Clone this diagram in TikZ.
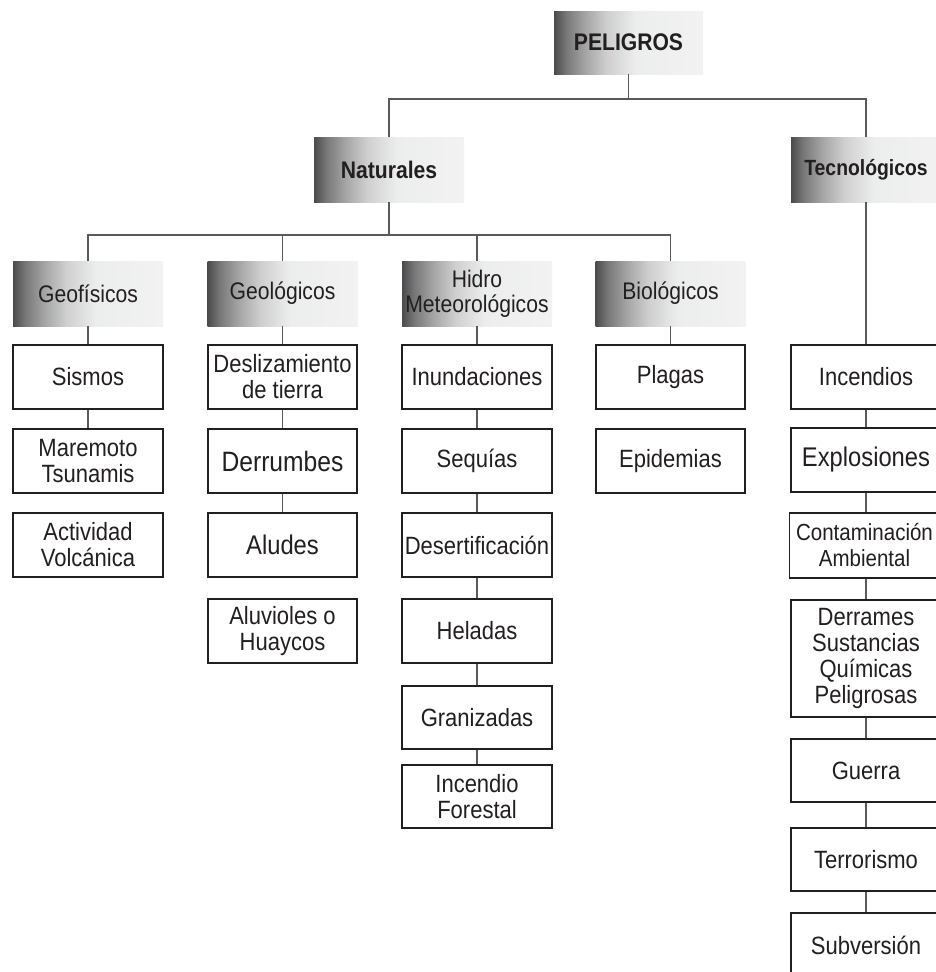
\documentclass[tikz,border=0pt]{standalone}
\usepackage{fontspec}
\setmainfont{Liberation Sans}[FakeStretch=0.88]
\definecolor{sA}{HTML}{4B4B4D}
\definecolor{sB}{HTML}{777778}
\definecolor{sC}{HTML}{A2A2A3}
\definecolor{sD}{HTML}{CDCECD}
\definecolor{sE}{HTML}{ECEDED}
\definecolor{sF}{HTML}{F1F2F1}
\definecolor{txt}{HTML}{231F20}
\definecolor{lin}{HTML}{5A5A5A}
\pgfdeclarehorizontalshading{hdrshade}{100bp}{color(0bp)=(sA); color(25bp)=(sA); color(29bp)=(sB); color(35bp)=(sC); color(42.5bp)=(sD); color(52.5bp)=(sE); color(75bp)=(sF); color(100bp)=(sF)}
\tikzset{
  hdr/.style={shading=hdrshade, draw=none, minimum width=150pt, minimum height=65pt, inner sep=0pt, text=txt, align=center},
  hdrbold/.style={hdr, font=\bfseries\fontsize{24}{25}\selectfont},
  hdrnorm/.style={hdr, font=\fontsize{24}{25}\selectfont},
  itembox/.style={draw=txt, line width=1.3pt, fill=white, minimum width=150pt, minimum height=64pt, inner sep=0pt, text=txt, align=center, font=\fontsize{25}{26}\selectfont},
  conn/.style={draw=lin, line width=1.3pt}
}
\begin{document}
\begin{tikzpicture}[x=1pt,y=-1pt]
\clip (0,0) rectangle (936,972);
\fill[white] (0,0) rectangle (936,972);
% level 1
\node[hdrbold, minimum width=149pt, minimum height=63pt] (peligros) at (628.5,42.5) {PELIGROS};
% level 2
\node[hdrbold] (naturales) at (389,169.5) {Naturales};
\node[hdrbold, font=\bfseries\fontsize{22}{24}\selectfont] (tecno) at (866,169.5) {Tecnológicos};
% level 3 headers
\node[hdrnorm] (geofis) at (88,293.5) {Geofísicos};
\node[hdrnorm] (geolog) at (282.5,293.5) {Geológicos};
\node[hdrnorm] (hidro) at (477,293.5) {Hidro\\Meteorológicos};
\node[hdrnorm] (bio) at (670.5,293.5) {Biológicos};
% Geofisicos column
\node[itembox] (sismos) at (88,377) {Sismos};
\node[itembox] (maremoto) at (88,461) {Maremoto\\Tsunamis};
\node[itembox] (volcan) at (88,545) {Actividad\\Volcánica};
% Geologicos column
\node[itembox, minimum width=149pt] (desliz) at (282.5,377) {Deslizamiento\\de tierra};
\node[itembox, minimum width=149pt, font=\fontsize{28}{28}\selectfont] (derrumbes) at (282.5,461) {Derrumbes};
\node[itembox, minimum width=149pt, font=\fontsize{27}{27}\selectfont] (aludes) at (282.5,545) {Aludes};
\node[itembox, minimum width=149pt] (aluviones) at (282.5,631) {Aluvioles o\\Huaycos};
% Hidro column
\node[itembox] (inund) at (477,377) {Inundaciones};
\node[itembox] (sequias) at (477,461) {Sequías};
\node[itembox] (desert) at (477,545) {Desertificación};
\node[itembox] (heladas) at (477,631) {Heladas};
\node[itembox, minimum height=63pt] (graniz) at (477,717.5) {Granizadas};
\node[itembox, minimum height=63pt] (incfor) at (477,796.5) {Incendio\\Forestal};
% Biologicos column
\node[itembox, minimum width=149pt] (plagas) at (670.5,377) {Plagas};
\node[itembox, minimum width=149pt] (epidem) at (670.5,461) {Epidemias};
% Tecnologicos column
\node[itembox] (incend) at (866,377) {Incendios};
\node[itembox, font=\fontsize{27}{27}\selectfont] (explos) at (866,460) {Explosiones};
\node[itembox, minimum height=65pt, font=\fontsize{23.3}{26}\selectfont] (contam) at (864.5,545.5) {Contaminación\\Ambiental};
\node[itembox, minimum height=117pt] (derrames) at (866,658.5) {Derrames\\Sustancias\\Químicas\\Peligrosas};
\node[itembox, minimum height=63pt] (guerra) at (866,770.5) {Guerra};
\node[itembox, minimum height=63pt] (terror) at (866,859.5) {Terrorismo};
\node[itembox] (subver) at (866,945) {Subversión};
% connectors level 1
\coordinate (b1) at (628.5,99);
\draw[conn] (peligros.south) -- (b1);
\draw[conn] (naturales.north) |- (b1) -| (tecno.north);
% connectors level 2
\coordinate (b2) at (389,235);
\draw[conn] (naturales.south) -- (b2);
\draw[conn] (geofis.north) |- (b2) -| (bio.north);
\draw[conn] (geolog.north) -- (geolog.north |- b2);
\draw[conn] (hidro.north) -- (hidro.north |- b2);
% chains
\draw[conn] (geofis.south) -- (sismos.north);
\draw[conn] (sismos.south) -- (maremoto.north);
\draw[conn] (geolog.south) -- (desliz.north);
\draw[conn] (desliz.south) -- (derrumbes.north);
\draw[conn] (derrumbes.south) -- (aludes.north);
\draw[conn] (hidro.south) -- (inund.north);
\draw[conn] (inund.south) -- (sequias.north);
\draw[conn] (sequias.south) -- (desert.north);
\draw[conn] (desert.south) -- (heladas.north);
\draw[conn] (heladas.south) -- (graniz.north);
\draw[conn] (graniz.south) -- (incfor.north);
\draw[conn] (bio.south) -- (plagas.north);
\draw[conn] (tecno.south) -- (incend.north);
\draw[conn] (incend.south) -- (explos.north);
\draw[conn] (explos.south) -- (contam.north -| explos.south);
\draw[conn] (contam.south -| explos.south) -- (derrames.north);
\draw[conn] (derrames.south) -- (guerra.north);
\draw[conn] (guerra.south) -- (terror.north);
\draw[conn] (terror.south) -- (subver.north);
\end{tikzpicture}
\end{document}
